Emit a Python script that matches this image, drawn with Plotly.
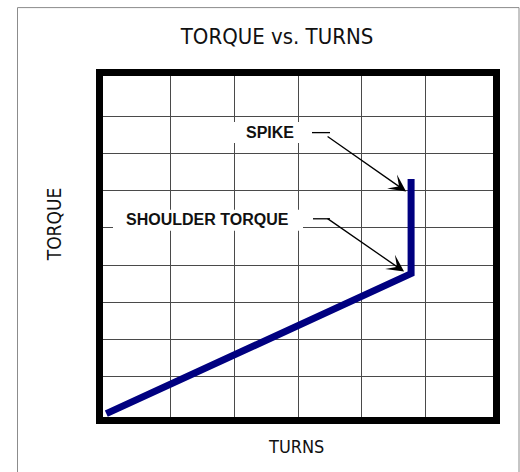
import plotly.graph_objects as go

# ---- data ----
turns = [0.0, 4.77, 4.77]
torque = [0.0, 3.77, 6.32]
x_grid = [1, 2, 3, 4, 5]
y_grid = [1, 2, 3, 4, 5, 6, 7, 8]

labels = ["SPIKE", "SHOULDER TORQUE"]

# ---- layout geometry (pixels) ----
FW, FH = 520, 472
L, R, T, B = 103, 27, 76, 54.5
W = FW - L - R
H = FH - T - B
X_RANGE = [-0.052, 6.052]
Y_RANGE = [-0.09, 9.09]


def pxx(px):
    return (px - L) / W


def pxy(py):
    return (FH - B - py) / H


NARROW = "DejaVu Sans Condensed, sans-serif"
BOLD = "Liberation Sans, Arial, sans-serif"

fig = go.Figure()
fig.add_trace(go.Scatter(
    x=turns, y=torque, mode="lines",
    line=dict(color="#000080", width=7),
    hoverinfo="skip", showlegend=False,
))

shapes = [
    # outer light frame
    dict(type="rect", xref="paper", yref="paper",
         x0=pxx(17.5), x1=pxx(519), y0=pxy(490), y1=pxy(7.5),
         line=dict(color="#8c8c8c", width=1), fillcolor="rgba(0,0,0,0)", layer="below"),
    # white label boxes
    dict(type="rect", xref="paper", yref="paper",
         x0=pxx(232), x1=pxx(301), y0=pxy(143), y1=pxy(122),
         line=dict(width=0), fillcolor="white", layer="above"),
    dict(type="rect", xref="paper", yref="paper",
         x0=pxx(113), x1=pxx(303), y0=pxy(231), y1=pxy(210),
         line=dict(width=0), fillcolor="white", layer="above"),
    # horizontal leader segments
    dict(type="line", xref="paper", yref="paper",
         x0=pxx(312), x1=pxx(330), y0=pxy(132.7), y1=pxy(132.7),
         line=dict(color="black", width=1.3), layer="above"),
    dict(type="line", xref="paper", yref="paper",
         x0=pxx(313), x1=pxx(330), y0=pxy(219), y1=pxy(219),
         line=dict(color="black", width=1.3), layer="above"),
]

annotations = [
    # labels
    dict(text="<b>%s</b>" % labels[0], xref="paper", yref="paper",
         x=pxx(269.7), y=pxy(133), xanchor="center", yanchor="middle",
         showarrow=False, font=dict(family=BOLD, size=16, color="#111")),
    dict(text="<b>%s</b>" % labels[1], xref="paper", yref="paper",
         x=pxx(207.5), y=pxy(220), xanchor="center", yanchor="middle",
         showarrow=False, font=dict(family=BOLD, size=16, color="#111")),
    # arrows pointing at data points
    dict(text="", x=turns[2], y=torque[2], xref="x", yref="y",
         xshift=-5, yshift=-12.5, ax=-80, ay=-56, showarrow=True,
         arrowhead=3, arrowsize=2.2, arrowwidth=1.3, arrowcolor="black"),
    dict(text="", x=turns[1], y=torque[1], xref="x", yref="y",
         xshift=-7, yshift=2, ax=-78, ay=-54, showarrow=True,
         arrowhead=3, arrowsize=2.2, arrowwidth=1.3, arrowcolor="black"),
    # axis titles
    dict(text="TURNS", xref="paper", yref="paper", x=pxx(296), y=pxy(447),
         xanchor="center", yanchor="middle", showarrow=False,
         font=dict(family=NARROW, size=18, color="#111")),
    dict(text="TORQUE", xref="paper", yref="paper", x=pxx(54), y=pxy(224.5),
         xanchor="center", yanchor="middle", showarrow=False, textangle=-90,
         font=dict(family=NARROW, size=19, color="#111")),
]

fig.update_layout(
    width=FW, height=FH,
    margin=dict(l=L, r=R, t=T, b=B, pad=0, autoexpand=False),
    paper_bgcolor="white", plot_bgcolor="white",
    title=dict(text="TORQUE vs. TURNS", x=277 / FW, xanchor="center",
               y=1 - 36.5 / FH, yanchor="middle", xref="container", yref="container",
               font=dict(family=NARROW, size=22, color="#111")),
    xaxis=dict(range=X_RANGE, tickvals=x_grid, showticklabels=False, ticks="",
               showgrid=True, gridcolor="#4a4a4a", gridwidth=1, zeroline=False,
               showline=True, linecolor="black", linewidth=7, mirror=True,
               fixedrange=True),
    yaxis=dict(range=Y_RANGE, tickvals=y_grid, showticklabels=False, ticks="",
               showgrid=True, gridcolor="#4a4a4a", gridwidth=1, zeroline=False,
               showline=True, linecolor="black", linewidth=7, mirror=True,
               fixedrange=True),
    shapes=shapes, annotations=annotations,
    showlegend=False,
)

fig.write_html("out.html", config={"displayModeBar": False},
               post_script="document.body.style.margin='0';")
